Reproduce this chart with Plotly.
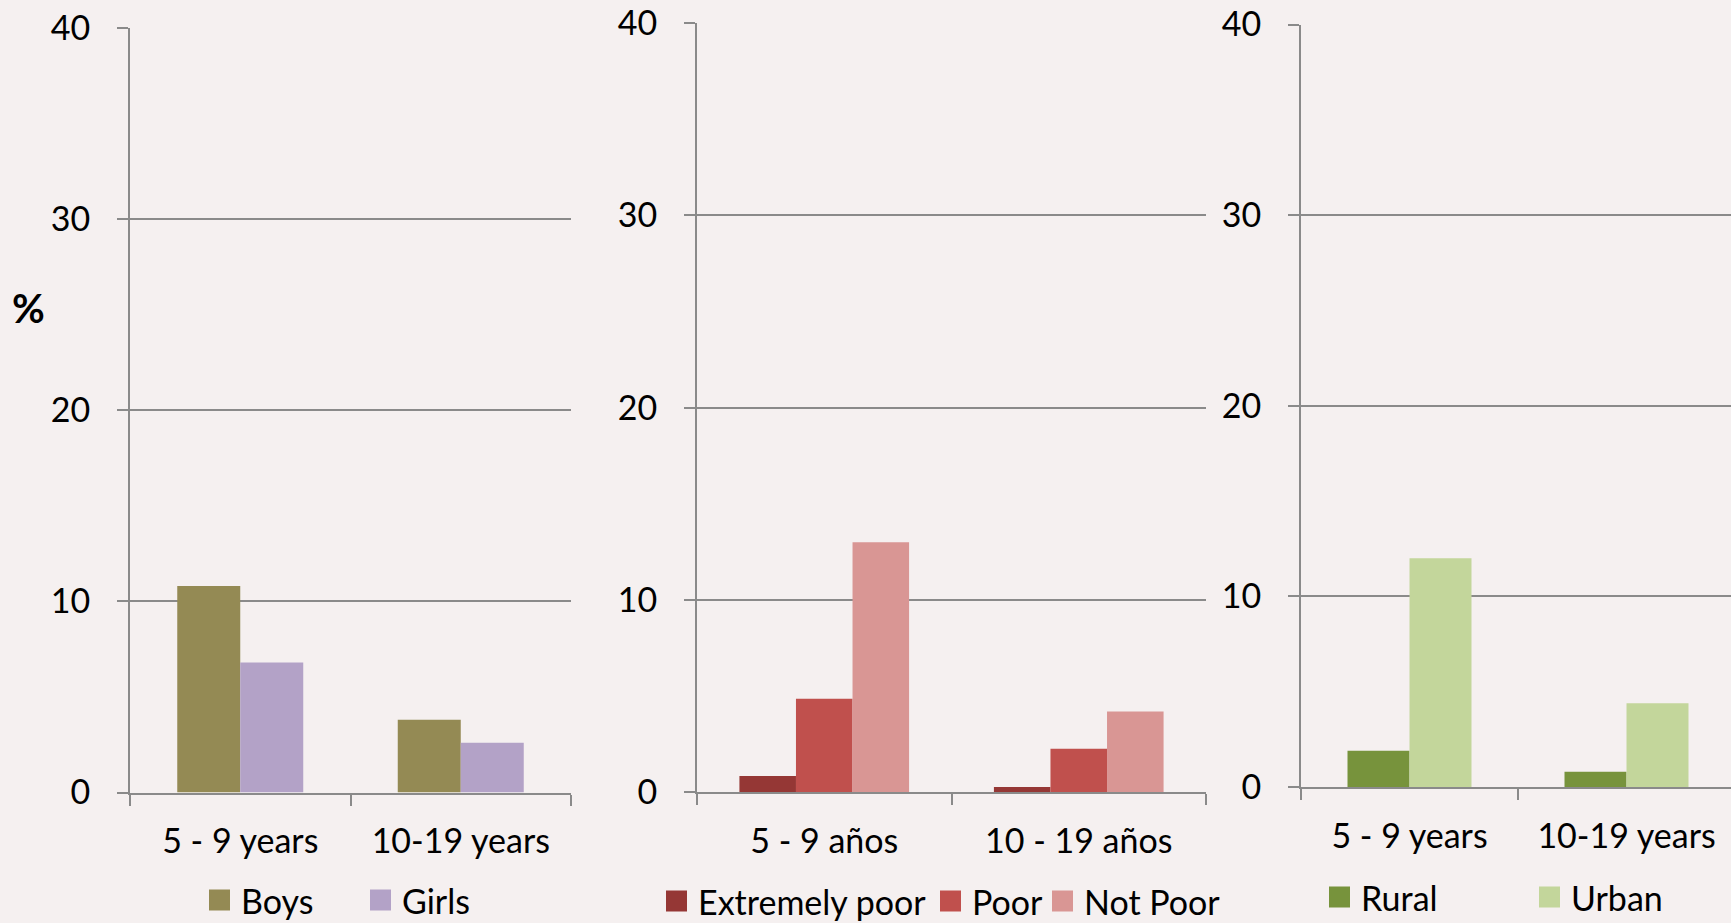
import plotly.graph_objects as go

# ---- data -------------------------------------------------------------
sex_groups = ["5 - 9 years", "10-19 years"]
boys = [10.8, 3.8]
girls = [6.8, 2.6]

poverty_groups = ["5 - 9 años", "10 - 19 años"]
extremely_poor = [0.85, 0.27]
poor = [4.87, 2.26]
not_poor = [13.0, 4.2]

area_groups = ["5 - 9 years", "10-19 years"]
rural = [1.9, 0.8]
urban = [12.0, 4.4]

y_ticks = [0, 10, 20, 30, 40]

# ---- styling ----------------------------------------------------------
W, H = 1731, 923
BG = "#F5F0F0"
GRID = "#8A8A8A"
FONT = "Lato"
FS = 34

COL_BOYS, COL_GIRLS = "#948A54", "#B3A2C7"
COL_EXT, COL_POOR, COL_NOT = "#953735", "#C0504D", "#D99694"
COL_RURAL, COL_URBAN = "#77933C", "#C3D69B"


def px_x(x):
    return x / W


def px_y(y):
    return 1 - y / H


# plot boxes in pixels: (left, right, top, bottom)
boxes = [
    (130, 571, 27.6, 792.5),
    (697, 1206, 23.0, 792.3),
    (1301, 1731, 24.5, 787.0),
]

fig = go.Figure()

panels = [
    (sex_groups, [("Boys", boys, COL_BOYS), ("Girls", girls, COL_GIRLS)]),
    (poverty_groups, [("Extremely poor", extremely_poor, COL_EXT),
                      ("Poor", poor, COL_POOR),
                      ("Not Poor", not_poor, COL_NOT)]),
    (area_groups, [("Rural", rural, COL_RURAL), ("Urban", urban, COL_URBAN)]),
]

for i, (cats, series) in enumerate(panels):
    n = len(series)
    w = 1.0 / (n + 1.5)  # gap between groups = 1.5 bar widths
    start = -n * w / 2
    ax = "" if i == 0 else str(i + 1)
    for k, (name, vals, col) in enumerate(series):
        fig.add_trace(go.Bar(
            x=cats, y=vals, name=name,
            marker=dict(color=col, line=dict(width=0)),
            width=w, offset=start + k * w,
            xaxis="x" + ax, yaxis="y" + ax,
            showlegend=False,
        ))

axis_common_y = dict(
    range=[0, 40], tickvals=y_ticks, ticks="outside", ticklen=11,
    tickwidth=2, tickcolor=GRID, showgrid=True, gridcolor=GRID, gridwidth=2,
    showline=True, linecolor=GRID, linewidth=2, zeroline=False,
    tickfont=dict(family=FONT, size=FS, color="#000000"),
    ticklabelstandoff=20, fixedrange=True, automargin=False,
)
axis_common_x = dict(
    type="category", tickson="boundaries", ticks="outside", ticklen=11,
    tickwidth=2, tickcolor=GRID, showline=True, linecolor=GRID, linewidth=2,
    showgrid=False, zeroline=False,
    tickfont=dict(family=FONT, size=FS, color="#000000"),
    ticklabelstandoff=18, fixedrange=True, automargin=False,
)

layout = dict(
    width=W, height=H, margin=dict(l=0, r=0, t=0, b=0, autoexpand=False),
    paper_bgcolor=BG, plot_bgcolor=BG, barmode="overlay",
    showlegend=False,
)
for i, (l, r, t, b) in enumerate(boxes):
    ax = "" if i == 0 else str(i + 1)
    xr = [-0.5, 1.5] if i < 2 else [-0.5, -0.5 + (r - l) / 217.0]
    layout["xaxis" + ax] = dict(axis_common_x, domain=[px_x(l), px_x(r)],
                                anchor="y" + ax, range=xr)
    layout["yaxis" + ax] = dict(axis_common_y, domain=[px_y(b), px_y(t)],
                                anchor="x" + ax)
fig.update_layout(**layout)

# y-axis unit label
fig.add_annotation(x=px_x(28), y=px_y(308), xref="paper", yref="paper",
                   text="<b>%</b>", showarrow=False,
                   xanchor="center", yanchor="middle",
                   font=dict(family=FONT, size=40, color="#000000"))

# legends under each panel: (label, colour, swatch-left px, centre-y px)
legend_items = [
    ("Boys", COL_BOYS, 209, 900),
    ("Girls", COL_GIRLS, 370, 900),
    ("Extremely poor", COL_EXT, 666, 901),
    ("Poor", COL_POOR, 940, 901),
    ("Not Poor", COL_NOT, 1052, 901),
    ("Rural", COL_RURAL, 1329, 897),
    ("Urban", COL_URBAN, 1539, 897),
]
SW = 21
for label, col, x0, yc in legend_items:
    fig.add_shape(type="rect", xref="paper", yref="paper",
                  x0=px_x(x0), x1=px_x(x0 + SW),
                  y0=px_y(yc + SW / 2), y1=px_y(yc - SW / 2),
                  fillcolor=col, line=dict(width=0))
    fig.add_annotation(x=px_x(x0 + SW + 9), y=px_y(yc), xref="paper",
                       yref="paper", text=label, showarrow=False,
                       xanchor="left", yanchor="middle",
                       font=dict(family=FONT, size=FS, color="#000000"))

fig.write_html("out.html")
